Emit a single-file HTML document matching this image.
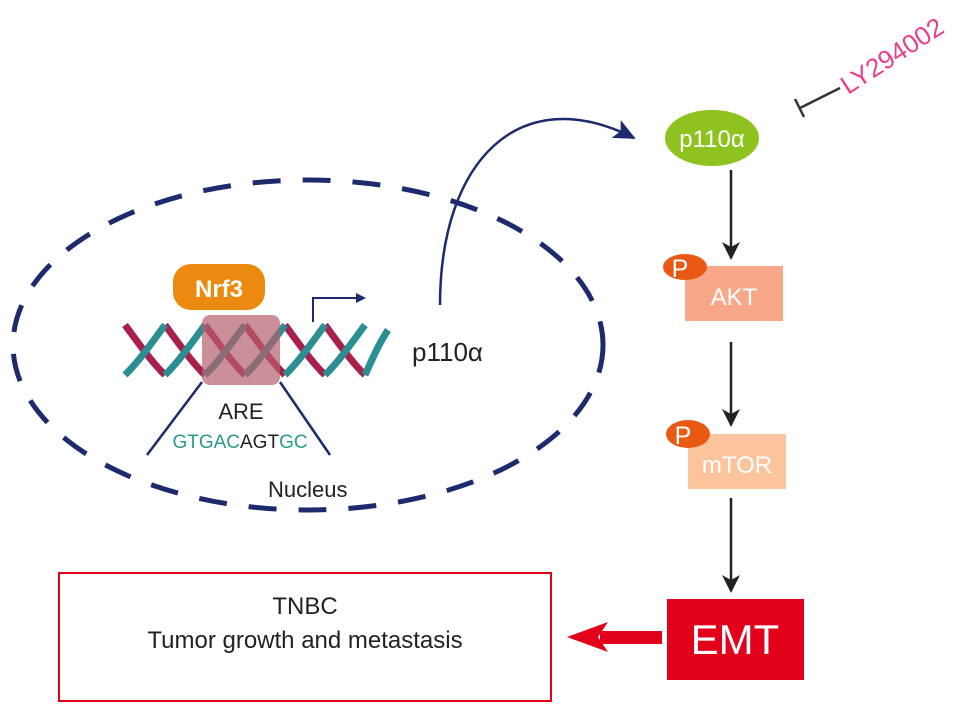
<!DOCTYPE html>
<html><head><meta charset="utf-8"><style>body{margin:0;background:#fff}svg{display:block}text{font-family:"Liberation Sans",sans-serif}</style></head>
<body>
<svg width="969" height="718" viewBox="0 0 969 718" xmlns="http://www.w3.org/2000/svg">
<defs>
<marker id="bk" markerWidth="18" markerHeight="22" refX="16" refY="9" orient="auto" markerUnits="userSpaceOnUse"><path d="M0,0 L18,9 L0,18 L5,9z" fill="#222"/></marker>
<marker id="nv" markerWidth="24" markerHeight="20" refX="20" refY="10" orient="auto" markerUnits="userSpaceOnUse"><path d="M0,0 L22,10 L0,20 L5,10z" fill="#1d2a6e"/></marker>
</defs>
<ellipse cx="308" cy="345" rx="295" ry="165" fill="none" stroke="#1d2a6e" stroke-width="5" stroke-dasharray="28 22"/>
<g stroke-width="7" fill="none">
<path d="M125,325 C140,345 150,360 165,375 M165,325 C180,345 190,360 205,375 M205,325 C220,345 230,360 245,375 M245,325 C260,345 270,360 285,375 M285,325 C300,345 310,360 325,375 M325,325 C340,345 350,360 365,375" stroke="#a8204c"/>
<path d="M165,325 C150,345 140,360 125,375 M205,325 C190,345 180,360 165,375 M245,325 C230,345 220,360 205,375 M285,325 C270,345 260,360 245,375 M325,325 C310,345 300,360 285,375 M365,325 C350,345 340,360 325,375 M388,330 C378,345 372,360 365,375" stroke="#2a8e92"/>
</g>
<rect x="202" y="315" width="78" height="70" rx="8" fill="#b5606e" opacity="0.7"/>
<rect x="173" y="264" width="92" height="46" rx="18" fill="#ec8a0f"/>
<text x="219" y="297" font-size="24" font-weight="bold" fill="#fff" text-anchor="middle">Nrf3</text>
<path d="M313,322 L313,298 L358,298" fill="none" stroke="#1d2a6e" stroke-width="2"/>
<path d="M356,293 L366,298 L356,303z" fill="#1d2a6e"/>
<line x1="202" y1="382" x2="147" y2="455" stroke="#1d2a6e" stroke-width="2.5"/>
<line x1="280" y1="382" x2="330" y2="455" stroke="#1d2a6e" stroke-width="2.5"/>
<text x="241" y="419" font-size="22" fill="#222" text-anchor="middle">ARE</text>
<text x="240" y="448" font-size="19" text-anchor="middle"><tspan fill="#2a9a8a">GTGAC</tspan><tspan fill="#222">AGT</tspan><tspan fill="#2a9a8a">GC</tspan></text>
<text x="268" y="497" font-size="22" fill="#222">Nucleus</text>
<text x="412" y="361" font-size="26" fill="#222">p110α</text>
<path d="M440,305 C440,160 520,80 634,138" fill="none" stroke="#1d2a6e" stroke-width="2.5" marker-end="url(#nv)"/>
<ellipse cx="712" cy="138" rx="47" ry="28" fill="#8dc21f"/>
<text x="712" y="147" font-size="24" fill="#fff" text-anchor="middle">p110α</text>
<line x1="800" y1="108" x2="840" y2="88" stroke="#333" stroke-width="2.5"/>
<line x1="795" y1="99" x2="804" y2="117" stroke="#333" stroke-width="2.5"/>
<text x="0" y="0" font-size="26" fill="#e83e8c" transform="translate(848,95) rotate(-33)">LY294002</text>
<line x1="731" y1="170" x2="731" y2="258" stroke="#222" stroke-width="2.5" marker-end="url(#bk)"/>
<rect x="685" y="266" width="98" height="55" fill="#f8a889"/>
<ellipse cx="685" cy="267" rx="22" ry="13" fill="#e85a14"/>
<text x="680" y="277" font-size="25" fill="#fff" text-anchor="middle">P</text>
<text x="734" y="305" font-size="24" fill="#fff" text-anchor="middle">AKT</text>
<line x1="731" y1="342" x2="731" y2="425" stroke="#222" stroke-width="2.5" marker-end="url(#bk)"/>
<rect x="688" y="434" width="98" height="55" fill="#fbc49c"/>
<ellipse cx="688" cy="434" rx="22" ry="14" fill="#e85a14"/>
<text x="683" y="444" font-size="25" fill="#fff" text-anchor="middle">P</text>
<text x="737" y="473" font-size="24" fill="#fff" text-anchor="middle">mTOR</text>
<line x1="731" y1="498" x2="731" y2="591" stroke="#222" stroke-width="2.5" marker-end="url(#bk)"/>
<rect x="667" y="599" width="137" height="81" fill="#e2001a"/>
<text x="735" y="654" font-size="42" fill="#fff" text-anchor="middle">EMT</text>
<rect x="600" y="631" width="62" height="13" fill="#e2001a"/>
<path d="M567,637 L608,622 L598,637 L608,652z" fill="#e2001a"/>
<rect x="59" y="573" width="492" height="128" fill="none" stroke="#e2001a" stroke-width="2"/>
<text x="305" y="614" font-size="24" fill="#222" text-anchor="middle">TNBC</text>
<text x="305" y="648" font-size="24" fill="#222" text-anchor="middle">Tumor growth and metastasis</text>
</svg>
</body></html>
